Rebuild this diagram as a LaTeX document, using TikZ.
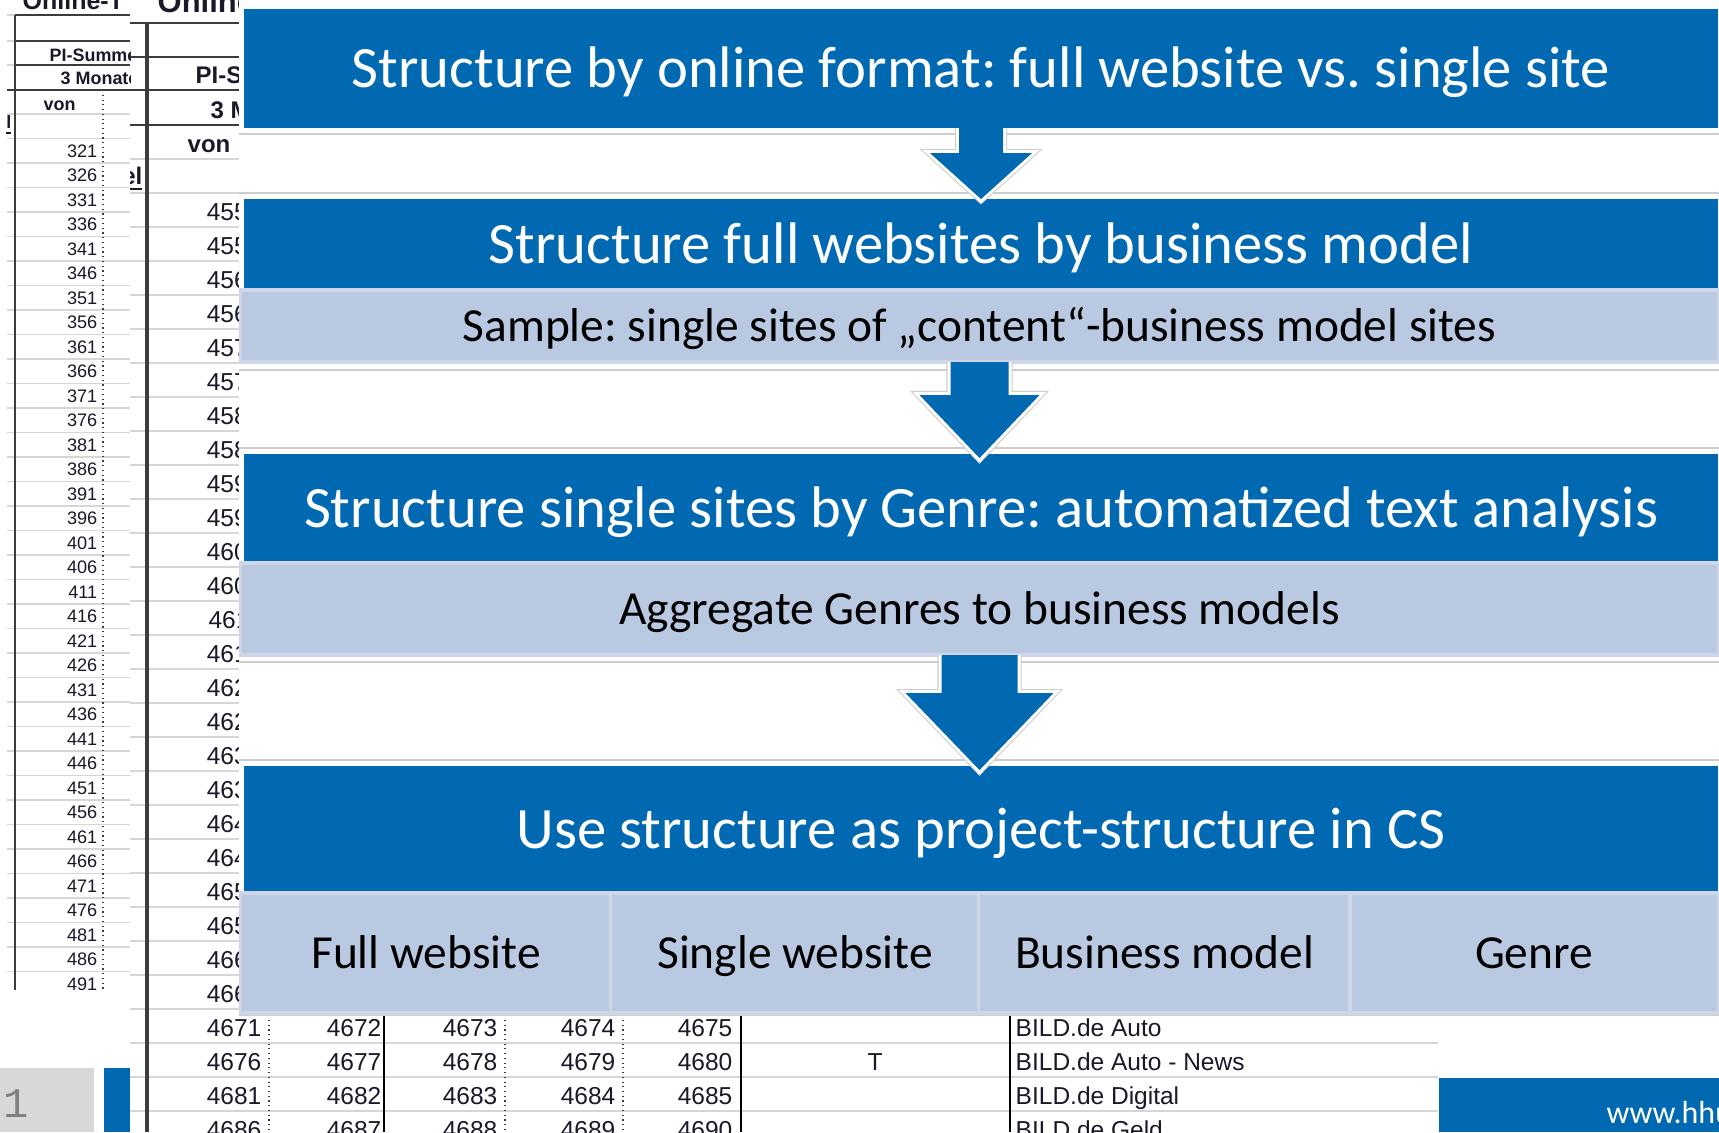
\documentclass[tikz,border=0pt]{standalone}
\usepackage{fontspec}
\setmainfont{Carlito}
\newfontfamily\sheetfont{Liberation Sans}
\newfontfamily\pagefont{Liberation Mono}
\usepackage{tikz}
\usetikzlibrary{calc}
\frenchspacing

\definecolor{hhublue}{RGB}{0,105,178}
\definecolor{cellblue}{RGB}{184,201,225}
\definecolor{celledge}{RGB}{206,214,232}
\definecolor{rowline}{RGB}{205,205,205}
\definecolor{gridgray}{RGB}{214,214,214}
\definecolor{griddark}{RGB}{60,60,60}
\definecolor{sheettext}{RGB}{25,25,40}
\definecolor{pagegray}{RGB}{215,216,218}

\tikzset{
  titlebox/.style={fill=hhublue, text=white, inner sep=0pt, outer sep=0pt,
    minimum width=14.74cm, font=\fontsize{16.67}{20}\selectfont,
    text height=10.73pt, text depth=0pt},
  cellbox/.style={fill=cellblue, draw=celledge, line width=0.9pt, inner sep=0pt,
    outer sep=0pt, font=\fontsize{13.49}{16}\selectfont,
    text height=8.68pt, text depth=0pt},
  smallnum/.style={font=\sheetfont\fontsize{5.15}{6}\selectfont, text=sheettext,
    inner sep=0pt, anchor=base east},
  bignum/.style={font=\sheetfont\fontsize{6.97}{8}\selectfont, text=sheettext,
    inner sep=0pt, anchor=base east},
  smallhead/.style={font=\sheetfont\bfseries\fontsize{5.1}{6}\selectfont,
    text=sheettext, inner sep=0pt, anchor=base west},
  bighead/.style={font=\sheetfont\bfseries\fontsize{6.83}{8}\selectfont,
    text=sheettext, inner sep=0pt, anchor=base west},
  lightgrid/.style={draw=gridgray, line width=0.5pt},
  darkgrid/.style={draw=griddark, line width=0.6pt},
  dotgrid/.style={draw=griddark, line width=0.35pt, densely dotted},
  arrowhalo/.style={draw=rowline, line width=2.3pt},
  arrowrim/.style={draw=white, line width=1.7pt}
}

% block arrow hanging below a box: anchor, shaft half, head half, shaft length, head length
\newcommand{\blockarrow}[5]{
  \draw[arrowhalo] (#1) ++(-#2,0) -- ++(0,#4) -- ++(#2-#3,0) -- ++(#3,#5) -- ++(#3,-#5) -- ++(#2-#3,0) -- ++(0,-#4);
  \draw[arrowrim] (#1) ++(-#2,0) -- ++(0,#4) -- ++(#2-#3,0) -- ++(#3,#5) -- ++(#3,-#5) -- ++(#2-#3,0) -- ++(0,-#4);
  \fill[hhublue] (#1) ++(-#2,0) -- ++(0,#4) -- ++(#2-#3,0) -- ++(#3,#5) -- ++(#3,-#5) -- ++(#2-#3,0) -- ++(0,-#4) -- cycle;
}

\begin{document}
\begin{tikzpicture}[x=0.01cm, y=-0.01cm]
    \useasboundingbox (0,0) rectangle (1719,1132);
    \clip (0,0) rectangle (1719,1132);
    \fill[white] (0,0) rectangle (1719,1132);

    % narrow spreadsheet window on the left
    \begin{scope}
        \clip (0,0) rectangle (130,990);
        \node[bighead, font=\sheetfont\bfseries\fontsize{7.1}{8}\selectfont] (top1) at (22,9) {Online-T};
        \foreach \y in {15,41,65} \draw[lightgrid] (7,\y) -- (15,\y);
        \draw[darkgrid] (15,15) -- (130,15);
        \draw[darkgrid] (15,41) -- (130,41);
        \draw[darkgrid] (15,65) -- (130,65);
        \draw[darkgrid] (7,90) -- (130,90);
        \foreach \k in {0,...,36} \draw[lightgrid] (7,114+24.5*\k) -- (130,114+24.5*\k);
        \draw[darkgrid, line width=0.7pt] (15,15) -- (15,990);
        \draw[dotgrid] (103,90) -- (103,990);
        \node[smallhead] (pi1) at (49,61) {PI-Summe};
        \node[smallhead] (months1) at (60,84) {3 Monate};
        \node[smallhead] (from1) at (43,110) {von};
        \node[smallhead, anchor=base east] (title1) at (12,128) {\underline{l}};
        \foreach \i in {0,...,34} {
            \pgfmathtruncatemacro{\val}{321+5*\i}
            \node[smallnum] (a\i) at (98,157.3+24.5*\i) {\val};
        }
    \end{scope}

    % wide spreadsheet window behind the slide
    \begin{scope}
        \clip (130,0) rectangle (1719,1132);
        \node[bighead, font=\sheetfont\bfseries\fontsize{8.8}{10}\selectfont] (top2) at (157,12) {Online};
        \foreach \y in {23,57,90,125} \draw[darkgrid] (130,\y) -- (260,\y);
        \draw[lightgrid] (130,159) -- (260,159);
        \foreach \k in {0,...,27} \draw[lightgrid] (130,193+34*\k) -- (1438,193+34*\k);
        \draw[darkgrid, line width=0.9pt] (147,23) -- (147,1132);
        \node[bighead] (pi2) at (195,83) {PI-Summe};
        \node[bighead] (months2) at (210,118) {3 Monate};
        \node[bighead] (from2) at (187,152) {von};
        \node[bighead, anchor=base east] (title2) at (143,184) {\underline{el}};
        \foreach \i in {0,...,27} {
            \pgfmathtruncatemacro{\val}{4551+5*\i}
            \node[bignum] (b\i) at (262,220.4+34*\i) {\val};
        }
        \foreach \i in {24,...,27} {
            \foreach \c/\xr in {1/382,2/498,3/616,4/733} {
                \pgfmathtruncatemacro{\val}{4551+5*\i+\c}
                \node[bignum] (v\i\c) at (\xr,220.4+34*\i) {\val};
            }
        }
        \foreach \x in {269,505,623} \draw[dotgrid] (\x,1015) -- (\x,1132);
        \foreach \x in {384,741,1010} \draw[black, line width=0.45pt] (\x,1015) -- (\x,1132);
        \node[bignum, anchor=base] (flag) at (875,1070.4) {T};
        \foreach \i/\site in {24/BILD.de Auto, 25/BILD.de Auto - News, 26/BILD.de Digital, 27/BILD.de Geld}
            \node[bignum, anchor=base west] (site\i) at (1015,220.4+34*\i) {\site};
    \end{scope}

    % slide panel
    \fill[white] (239,0) rectangle (1719,1015);
    \foreach \y in {134,193,370,448,662,760,1015} \draw[rowline, line width=0.35pt] (239,\y) -- (1719,\y);

    \node[titlebox, minimum height=1.19cm] (format) at (981,68.5) {Structure by online format: full website vs. single site};
    \node[titlebox, minimum height=0.91cm] (fullsites) at (981,244.5) {Structure full websites by business model};
    \node[cellbox, minimum width=14.77cm, minimum height=0.72cm] (sample) at (979.5,326) {Sample: single sites of „content“-business model sites};
    \node[titlebox, minimum height=1.09cm] (genre) at (981,508.5) {Structure single sites by Genre: automatized text analysis};
    \node[cellbox, minimum width=14.77cm, minimum height=0.92cm] (aggregate) at (979.5,609) {Aggregate Genres to business models};
    \node[titlebox, minimum height=1.27cm] (project) at (981,829.5) {Use structure as project-structure in CS};

    \node[cellbox, minimum width=3.70cm, minimum height=1.20cm] (fullweb) at (426,953) {Full website};
    \node[cellbox, minimum width=3.68cm, minimum height=1.20cm] (singleweb) at (795,953) {Single website};
    \node[cellbox, minimum width=3.71cm, minimum height=1.20cm] (busmodel) at (1164.5,953) {Business model};
    \node[cellbox, minimum width=3.68cm, minimum height=1.20cm] (genrecell) at (1534,953) {Genre};

    % arrows between the steps
    \blockarrow{format.south}{22}{51}{25}{46}
    \blockarrow{sample.south}{29}{60}{33}{63}
    \blockarrow{aggregate.south}{38}{74}{38}{77}

    % footer bits
    \fill[hhublue] (1439,1078) rectangle (1719,1132);
    \node[anchor=base west, inner sep=0pt, text=white, font=\fontsize{9.1}{11}\selectfont] (url) at (1606,1123) {www.hhu};
    \fill[pagegray] (0,1068) rectangle (94,1132);
    \node[anchor=base west, inner sep=0pt, text=gray, font=\pagefont\fontsize{12}{14}\selectfont] (pagenum) at (3,1117) {1};
    \fill[hhublue] (104,1068) rectangle (130,1132);
\end{tikzpicture}
\end{document}
